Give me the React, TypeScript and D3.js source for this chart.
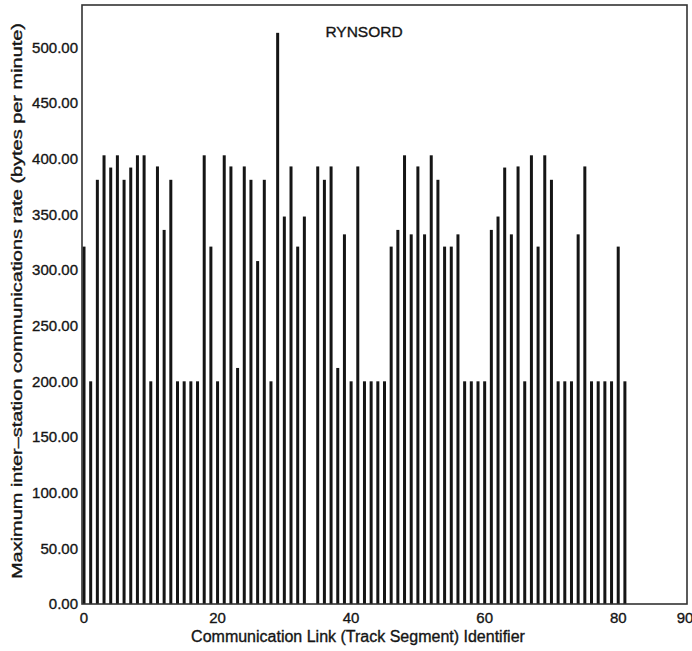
import React, { useEffect, useRef } from 'react';
import * as d3 from 'd3';

// link identifiers 0..81, link 34 has no bar
const linkIds: number[] = d3.range(0, 82);
const maxRates: (number | null)[] = [
  321, 200, 381, 403, 392, 403, 381, 392, 403, 403,
  200, 393, 336, 381, 200, 200, 200, 200, 403, 321,
  200, 403, 393, 212, 393, 381, 308, 381, 200, 513,
  348, 393, 321, 348, null, 393, 381, 393, 212, 332,
  200, 393, 200, 200, 200, 200, 321, 336, 403, 332,
  393, 332, 403, 381, 321, 321, 332, 200, 200, 200,
  200, 336, 348, 392, 332, 393, 200, 403, 321, 403,
  381, 200, 200, 200, 332, 393, 200, 200, 200, 200,
  321, 200,
];
const xTicks: number[] = [0, 20, 40, 60, 80, 90];
const yTicks: number[] = [0, 50, 100, 150, 200, 250, 300, 350, 400, 450, 500];

const chartTitle = 'RYNSORD';
const xTitle = 'Communication Link (Track Segment) Identifier';
const yTitle = 'Maximum inter\u2013station communications rate (bytes per minute)';

const App = () => {
  const svgRef = useRef<SVGSVGElement>(null);

  useEffect(() => {
    const svg = d3.select(svgRef.current);
    svg.selectAll('*').remove();

    const width = 692;
    const height = 651;
    const left = 82;
    const right = 687;
    const top = 5;
    const bottom = 604;
    const font = '"Liberation Sans", Arial, Helvetica, sans-serif';
    const ink = '#151515';

    const x = d3.scaleLinear().domain([-0.3, 90.3]).range([left, right]);
    const y = d3.scaleLinear().domain([0, 538]).range([bottom, top]);

    svg.append('rect')
      .attr('width', width)
      .attr('height', height)
      .attr('fill', '#ffffff');

    // bars (thin vertical columns)
    const barW = 3;
    const bars = linkIds
      .map((id, i) => ({ id, v: maxRates[i] }))
      .filter(d => d.v !== null) as { id: number; v: number }[];

    svg.append('g')
      .selectAll('rect')
      .data(bars)
      .enter().append('rect')
      .attr('x', d => x(d.id) - barW / 2)
      .attr('y', d => y(d.v))
      .attr('width', barW)
      .attr('height', d => y(0) - y(d.v))
      .attr('fill', ink);

    // frame
    svg.append('rect')
      .attr('x', left)
      .attr('y', top)
      .attr('width', right - left)
      .attr('height', bottom - top)
      .attr('fill', 'none')
      .attr('stroke', '#333')
      .attr('stroke-width', 1.6);

    // scanned print looks heavy, so give the text a faint outline
    const heavy = (sel: d3.Selection<any, any, any, any>) =>
      sel.attr('font-family', font)
        .attr('fill', ink)
        .attr('stroke', ink)
        .attr('stroke-width', 0.35);

    // y tick labels
    svg.append('g')
      .selectAll('text')
      .data(yTicks)
      .enter().append('text')
      .attr('x', 78)
      .attr('y', d => y(d))
      .attr('dy', '0.35em')
      .attr('text-anchor', 'end')
      .attr('font-size', 15)
      .call(heavy)
      .text(d => d3.format('.2f')(d));

    // x tick labels
    svg.append('g')
      .selectAll('text')
      .data(xTicks)
      .enter().append('text')
      .attr('x', d => x(d))
      .attr('y', 623)
      .attr('text-anchor', 'middle')
      .attr('font-size', 15)
      .call(heavy)
      .text(d => String(d));

    svg.append('text')
      .attr('x', 358)
      .attr('y', 642)
      .attr('text-anchor', 'middle')
      .attr('font-size', 16)
      .call(heavy)
      .text(xTitle);

    svg.append('text')
      .attr('transform', 'translate(22, 301) rotate(-90)')
      .attr('text-anchor', 'middle')
      .attr('font-size', 14.5)
      .attr('textLength', 556)
      .attr('lengthAdjust', 'spacingAndGlyphs')
      .call(heavy)
      .text(yTitle);

    svg.append('text')
      .attr('x', 364)
      .attr('y', 37)
      .attr('text-anchor', 'middle')
      .attr('font-size', 15.5)
      .call(heavy)
      .text(chartTitle);
  }, []);

  return (
    <svg
      ref={svgRef}
      width={692}
      height={651}
      style={{ position: 'absolute', left: 0, top: 0, display: 'block' }}
    />
  );
};

export default App;
